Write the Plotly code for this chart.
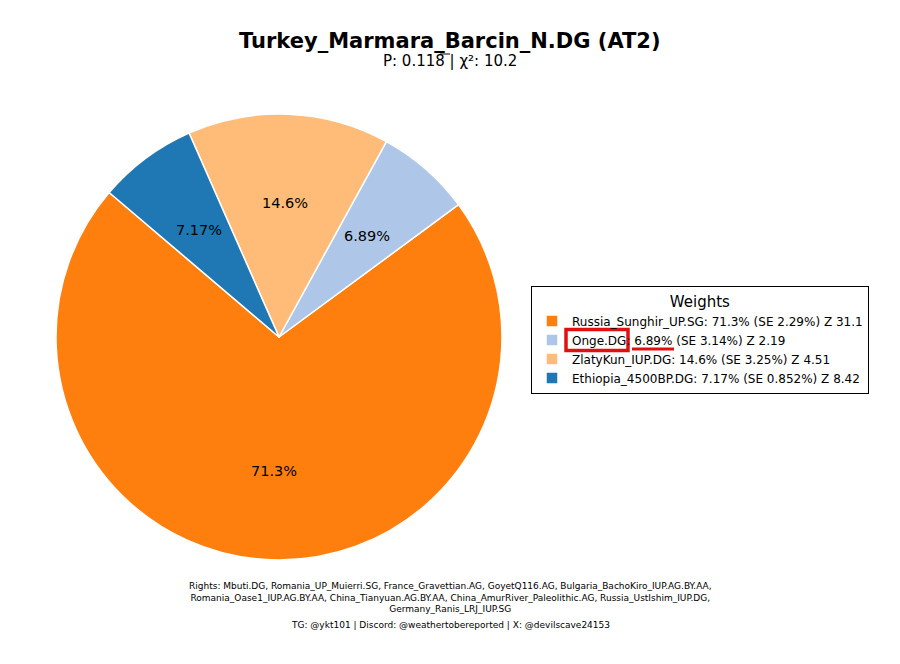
import numpy as np
import plotly.graph_objects as go

populations = ["Russia_Sunghir_UP.SG", "Onge.DG", "ZlatyKun_IUP.DG", "Ethiopia_4500BP.DG"]
weights = [71.3, 6.89, 14.6, 7.17]
se = ["2.29", "3.14", "3.25", "0.852"]
zscores = ["31.1", "2.19", "4.51", "8.42"]
colors = ["#ff7f0e", "#aec7e8", "#ffbb78", "#1f77b4"]

title = "Turkey_Marmara_Barcin_N.DG (AT2)"
subtitle = "P: 0.118 | χ²: 10.2"
rights = ["Rights: Mbuti.DG, Romania_UP_Muierri.SG, France_Gravettian.AG, GoyetQ116.AG, Bulgaria_BachoKiro_IUP.AG.BY.AA,",
          "Romania_Oase1_IUP.AG.BY.AA, China_Tianyuan.AG.BY.AA, China_AmurRiver_Paleolithic.AG, Russia_UstIshim_IUP.DG,",
          "Germany_Ranis_LRJ_IUP.SG"]
credits = "TG: @ykt101 | Discord: @weathertobereported | X: @devilscave24153"

labels = [f"{p}: {w}% (SE {s}%) Z {z}" for p, w, s, z in zip(populations, weights, se, zscores)]
texts = [f"{w}%" for w in weights]

W, H = 900, 664
font = "DejaVu Sans"
rotation = 53.6
cx_px, cy_px, r_px = 279, 337, 223
pct_distance = 0.6

fig = go.Figure(go.Pie(
    labels=labels, values=weights, textinfo="none",
    sort=False, direction="counterclockwise", rotation=rotation,
    marker=dict(colors=colors, line=dict(color="white", width=1.5)),
    domain=dict(x=[(cx_px - r_px)/W, (cx_px + r_px)/W], y=[1-(cy_px + r_px)/H, 1-(cy_px - r_px)/H]),
    hoverinfo="label",
))

# percentage labels placed at pctdistance along each slice's mid-angle
vals = np.array(weights, dtype=float)
total = vals.sum()
start = 90 - rotation - 360*vals[0]/total
cum = np.concatenate([[0], np.cumsum(vals)[:-1]])
mids = np.deg2rad(start + 360*(cum + vals/2)/total)
annotations = []
for t, a in zip(texts, mids):
    px = cx_px + pct_distance*r_px*np.cos(a)
    py = cy_px - pct_distance*r_px*np.sin(a)
    annotations.append(dict(text=t, x=px/W, y=1-py/H, xref="paper", yref="paper", showarrow=False,
                            font=dict(family=font, size=14.5, color="black"),
                            xanchor="center", yanchor="middle"))

annotations += [
    dict(text=f"<b>{title}</b>", x=0.5, y=1-41/H, xref="paper", yref="paper",
         showarrow=False, font=dict(size=21, family=font), xanchor="center", yanchor="middle"),
    dict(text=subtitle, x=0.5, y=1-61/H, xref="paper", yref="paper",
         showarrow=False, font=dict(size=15, family=font), xanchor="center", yanchor="middle"),
    dict(text="<br>".join(rights), x=0.5, y=1-597/H, xref="paper", yref="paper",
         showarrow=False, font=dict(size=9, family=font), xanchor="center", yanchor="middle",
         align="center"),
    dict(text=credits, x=0.5, y=1-625/H, xref="paper", yref="paper",
         showarrow=False, font=dict(size=9, family=font), xanchor="center", yanchor="middle"),
]

fig.update_layout(
    width=W, height=H, margin=dict(l=0, r=0, t=0, b=0),
    paper_bgcolor="white", plot_bgcolor="white",
    font=dict(family=font, color="black"),
    legend=dict(x=531/W, y=1-286/H, xanchor="left", yanchor="top",
                bordercolor="black", borderwidth=1, bgcolor="rgba(0,0,0,0)",
                font=dict(family=font, size=12, color="black"),
                title=dict(text="Weights", side="top center", font=dict(family=font, size=15)),
                tracegroupgap=0),
    annotations=annotations,
    shapes=[
        dict(type="rect", xref="paper", yref="paper", x0=566/W, x1=628/W,
             y0=1-350.5/H, y1=1-329.5/H, line=dict(color="#e01010", width=3.5)),
        dict(type="line", xref="paper", yref="paper", x0=632/W, x1=674/W,
             y0=1-349/H, y1=1-349/H, line=dict(color="#e01010", width=3)),
        dict(type="line", xref="paper", yref="paper", x0=440/W, x1=450/W,
             y0=1-54/H, y1=1-54/H, line=dict(color="black", width=1)),
    ],
)

fig.write_html("out.html")
